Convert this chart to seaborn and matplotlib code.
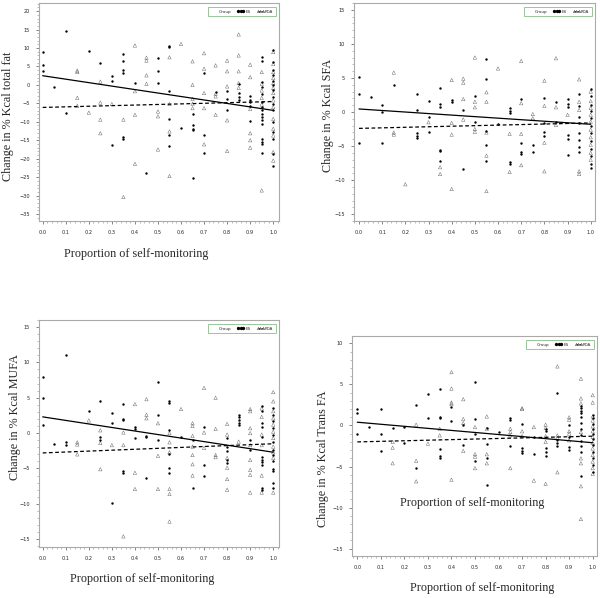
import matplotlib
matplotlib.use('Agg')
import matplotlib.pyplot as plt
from matplotlib.lines import Line2D
from matplotlib.ticker import MultipleLocator
import pandas as pd
import seaborn as sns

# Scatter values: x position -> list of y values
fat_es = {0.0: [8.9, 5.5, 3.8], 0.05: [-0.5], 0.1: [14.7, -7.6], 0.2: [9.2],
          0.25: [5.9], 0.3: [2.3, 1.2, -16.4], 0.35: [8.3, 6.6, 4.1, 3.2, -14.1, -14.6],
          0.4: [0.5], 0.45: [-23.8], 0.5: [7.4, 3.9, 0.5],
          0.55: [10.5, 10.2, -1.7, -9.2, -13.7, -16.5], 0.6: [-11.7],
          0.65: [-7.8, -11.0, -11.9, -12.3, -25.3], 0.7: [3.2, -13.7, -18.5],
          0.75: [-2.0], 0.8: [-1.7, -3.8, -6.9], 0.85: [0.3, -2.2, -3.3, -4.0],
          0.9: [-2.9, -4.2, -4.7, -5.8, -9.8],
          0.95: [7.7, 6.6, 0.8, -0.6, -2.4, -4.7, -6.0, -6.9, -7.8, -8.7, -9.6, -10.7, -14.6, -15.5, -16.0, -18.5],
          1.0: [9.5, 6.2, 4.1, 2.6, 1.2, -0.1, -1.5, -3.3, -5.1, -6.9, -10.1, -12.8, -14.6, -18.8, -22.1]}
fat_pda = {0.15: [3.9, 3.5, -3.5, -5.7], 0.2: [-7.5], 0.25: [0.9, -4.8, -9.4, -13.1],
           0.3: [-5.2], 0.35: [-9.4, -30.4], 0.4: [10.7, -1.7, -8.1, -21.4],
           0.45: [7.4, 6.6, 2.6, 0.3], 0.5: [-7.2, -8.5, -17.5],
           0.55: [7.5, -5.2, -12.6, -24.7], 0.6: [11.1],
           0.65: [6.4, 0.0, -3.8, -5.1, -6.3], 0.7: [8.6, 4.4, -2.2, -6.3, -16.1],
           0.75: [5.3, -2.4, -3.1, -8.1], 0.8: [6.6, 3.7, -0.4, -9.6, -17.9],
           0.85: [13.7, 8.0, 3.7, 0.5, -0.8], 0.9: [5.5, 2.1, -6.5, -13.1, -15.0, -17.0],
           0.95: [3.5, 0.3, -1.5, -3.5, -5.3, -28.6],
           1.0: [8.9, 5.7, 3.5, 1.9, 0.5, -0.8, -2.2, -4.2, -6.0, -9.2, -11.9, -13.7, -18.2, -20.5]}

sfa_es = {0.0: [5.1, 2.6, -4.5], 0.05: [2.2], 0.1: [1.1, 0.0, -4.6], 0.15: [4.0],
          0.25: [2.6, 0.3, -3.1, -3.5, -3.8], 0.3: [1.6, -0.7, -3.0],
          0.35: [3.5, 1.2, 0.8, -5.6, -5.7, -7.2], 0.4: [1.7, 1.4], 0.45: [0.3, -8.3],
          0.5: [2.4, -1.5], 0.55: [7.8, 4.8, -2.8, -4.9, -7.2], 0.6: [-1.7],
          0.65: [0.6, 0.2, -0.2, -7.4, -7.6], 0.7: [1.9, -4.6, -5.9, -6.1],
          0.75: [-4.8, -5.8], 0.8: [2.1, -1.6, -3.0, -3.5], 0.85: [1.5, -1.4],
          0.9: [1.9, 1.2, 0.7, -3.4, -4.0, -6.3],
          0.95: [2.6, 0.9, -0.7, -1.6, -3.1, -4.1, -5.1, -5.9],
          1.0: [3.4, 2.3, 1.1, 0.1, -0.9, -2.0, -3.1, -4.3, -5.5, -6.5, -7.6, -8.2]}
sfa_pda = {0.15: [5.8, -3.0, -3.3], 0.2: [-10.6], 0.3: [-1.5], 0.35: [-8.1, -9.1],
           0.4: [4.7, -1.6, -3.3, -11.3], 0.45: [4.9, 4.3, 1.9, -1.1],
           0.5: [8.0, 1.5, 0.7, -2.5, -2.9], 0.55: [2.9, 1.5, -3.0, -6.4, -11.6],
           0.6: [6.4], 0.65: [-3.2, -8.8], 0.7: [7.5, 1.3, -3.2, -7.8],
           0.75: [-0.3, -0.9], 0.8: [4.6, 0.9, -4.5, -8.7], 0.85: [7.9, 0.7, -1.9],
           0.9: [-0.4], 0.95: [4.8, 1.5, 0.3, -8.7, -9.1],
           1.0: [3.0, 1.6, 0.6, -0.4, -1.4, -2.6, -3.7, -4.8, -6.0, -7.0]}

mufa_es = {0.0: [7.9, 4.9, 1.1], 0.05: [-1.6], 0.1: [11.0, -1.3, -1.7], 0.2: [3.2],
           0.25: [4.6, -0.5, -0.9], 0.3: [2.8, 1.5, -9.9], 0.35: [4.1, 2.0, 1.8, -5.3, -5.7],
           0.4: [0.8, 0.6, -0.7], 0.45: [-0.4, -0.6, -6.4], 0.5: [7.3, 2.5, -0.9],
           0.55: [4.6, 4.3, 0.4, -2.9, -5.0, -5.7], 0.6: [-0.6], 0.65: [-0.9, -7.8],
           0.7: [0.9, -4.5, -6.0], 0.8: [-0.7, -1.9, -2.5, -3.8, -4.2],
           0.85: [2.6, 2.3, 1.9, 1.5, 1.2], 0.9: [-0.9, -2.4],
           0.95: [3.9, 3.1, 1.4, 0.9, -0.5, -3.4, -3.8, -4.1, -4.5, -7.8, -8.1],
           1.0: [3.5, 2.6, 1.7, 0.7, -0.2, -1.2, -2.4, -3.1, -4.0, -5.1, -5.4, -7.1, -7.8]}
mufa_pda = {0.15: [-1.3, -1.6, -3.0], 0.2: [1.8], 0.25: [0.4, -1.4, -5.1], 0.3: [-1.7],
            0.35: [0.1, -1.7, -14.6], 0.4: [4.1, -5.6, -7.9], 0.45: [4.8, 2.6, 2.1],
            0.5: [1.4, -3.2, -7.9], 0.55: [0.0, -1.3, -2.7, -7.9, -8.6, -12.5], 0.6: [3.4],
            0.65: [1.4, 1.0, -0.4, -1.9, -3.1, -4.4, -6.0], 0.7: [6.4, 0.1, -2.1],
            0.75: [5.0, 0.6, -3.1, -3.4], 0.8: [1.3, -0.2, -3.5, -4.9, -6.5, -8.0],
            0.85: [-1.2], 0.9: [3.4, 3.1, 0.7, 0.0, -1.7, -3.8, -5.2, -5.9, -8.4],
            0.95: [3.5, 2.3, -0.2, -1.7, -6.0, -8.4],
            1.0: [5.8, 4.5, 3.1, 2.1, 1.2, 0.2, -0.7, -1.9, -2.7, -3.5, -8.4]}

trans_es = {0.0: [2.0, 1.5, -1.0], 0.05: [-0.2], 0.1: [2.0, -1.0, -3.1], 0.15: [-0.3],
            0.2: [-0.2, -2.1], 0.25: [2.5, -5.2], 0.3: [3.8, 0.9],
            0.35: [4.4, 1.0, 0.9, -2.9, -3.7, -3.9], 0.4: [2.3, 0.5], 0.45: [0.1, -2.4],
            0.5: [5.3, 0.8, -1.0, -4.3], 0.55: [-0.3, -2.3, -3.9, -7.3], 0.6: [-0.8],
            0.65: [0.9, 0.7, -2.5], 0.7: [0.2, -2.7, -3.1, -3.4], 0.75: [-1.4, -3.5],
            0.8: [-0.4, -0.7, -2.7, -3.2, -3.7], 0.85: [4.0, -1.8, -2.1, -2.5],
            0.9: [0.0, -1.4, -2.6, -3.0],
            0.95: [2.4, 2.1, 1.8, 1.5, 1.0, 0.3, -0.4, -1.2, -1.9, -2.5, -3.2, -6.2],
            1.0: [1.3, 0.9, 0.2, -0.4, -1.0, -1.7, -2.4, -3.2, -4.0, -4.8, -5.7]}
trans_pda = {0.15: [-2.0, -2.7, -4.6], 0.25: [0.1, -4.3, -6.8], 0.3: [-2.2],
             0.35: [-0.4, -1.2], 0.4: [6.5, 4.5, 2.8, 2.6, -6.6], 0.45: [3.2, 0.8, 0.3, -3.1],
             0.5: [-0.2, -3.5, -3.8, -5.2], 0.55: [1.1, -0.4, -3.5, -4.6],
             0.65: [-0.4, -0.8, -1.2, -5.2], 0.7: [2.1, 2.0, -0.7, -1.3],
             0.75: [-0.2, -6.7], 0.8: [0.1, -0.3, -1.3, -2.0, -7.1],
             0.85: [7.2, -1.2, -1.5, -5.7], 0.9: [1.0, 0.7, -0.7, -1.0, -1.8],
             0.95: [5.7, 3.3, 2.7, -0.8, -4.0, -4.6, -7.4, -11.4],
             1.0: [3.7, 2.8, 1.1, 0.6, -0.1, -0.7, -1.4, -2.1, -2.8, -3.6, -4.4, -5.2, -5.9]}

# Fitted lines: values at x=0 and x=1
fit_x = [0.0, 1.0]
fat_es_fit, fat_pda_fit = [2.5, -6.9], [-6.1, -4.5]
sfa_es_fit, sfa_pda_fit = [0.45, -1.8], [-2.4, -1.6]
mufa_es_fit, mufa_pda_fit = [2.3, -2.7], [-2.8, -1.5]
trans_es_fit, trans_pda_fit = [0.4, -2.1], [-2.0, -1.3]

ylabels = ['Change in % Kcal total fat', 'Change in % Kcal SFA',
           'Change in % Kcal MUFA', 'Change in % Kcal Trans FA']
xlabel = 'Proportion of self-monitoring'
group_names = ['ES', 'PDA']


def to_frame(d):
    rows = [(x, y) for x, ys in d.items() for y in ys]
    return pd.DataFrame(rows, columns=['x', 'y'])


sns.set_theme(style='white')
plt.rcParams['font.family'] = ['DejaVu Sans']
serif = 'Liberation Serif'

fig = plt.figure(figsize=(6.0, 5.98), dpi=100)

panels = [
    # axes rect, xlim, ylim, y ticks, data
    ([0.065, 0.6304, 0.400, 0.3645], (-0.016, 1.025), (-36.9, 22.2), range(-35, 21, 5),
     fat_es, fat_pda, fat_es_fit, fat_pda_fit),
    ([0.590, 0.6304, 0.4017, 0.3645], (-0.0216, 1.0186), (-16.0, 16.0), range(-15, 16, 5),
     sfa_es, sfa_pda, sfa_es_fit, sfa_pda_fit),
    ([0.065, 0.0853, 0.400, 0.3796], (-0.016, 1.025), (-16.1, 16.0), range(-15, 16, 5),
     mufa_es, mufa_pda, mufa_es_fit, mufa_pda_fit),
    ([0.5867, 0.0702, 0.4083, 0.3679], (-0.0225, 1.0183), (-15.9, 10.9), range(-15, 11, 5),
     trans_es, trans_pda, trans_es_fit, trans_pda_fit),
]

for rect, xlim, ylim, yt, es, pda, es_fit, pda_fit in panels:
    ax = fig.add_axes(rect)
    es_df, pda_df = to_frame(es), to_frame(pda)
    sns.scatterplot(data=pda_df, x='x', y='y', marker='^', s=6, facecolor='none',
                    edgecolor='#555555', linewidth=0.3, ax=ax)
    sns.scatterplot(data=es_df, x='x', y='y', marker='o', s=3, color='black',
                    edgecolor='black', linewidth=0, ax=ax)
    sns.lineplot(x=fit_x, y=es_fit, color='black', linewidth=0.9, ax=ax)
    sns.lineplot(x=fit_x, y=pda_fit, color='black', linewidth=0.9, linestyle=(0, (3, 2)), ax=ax)

    ax.set_xlim(*xlim)
    ax.set_ylim(*ylim)
    ax.set_xticks([i / 10 for i in range(11)])
    ax.set_xticklabels([f'{i / 10:.1f}' for i in range(11)])
    ax.xaxis.set_minor_locator(MultipleLocator(0.02))
    ax.set_yticks(list(yt))
    ax.yaxis.set_minor_locator(MultipleLocator(1))
    ax.tick_params(axis='both', which='major', labelsize=3.6, length=2.5, width=0.5,
                   color='#555555', pad=4, bottom=True, left=True)
    ax.tick_params(axis='both', which='minor', length=1.2, width=0.4, color='#888888',
                   bottom=True, left=True)
    ax.set_xlabel('')
    ax.set_ylabel('')
    for sp in ax.spines.values():
        sp.set_color('#aaaaaa')
        sp.set_linewidth(0.8)

    handles = [
        Line2D([], [], linestyle='none'),
        Line2D([], [], color='black', marker='o', markersize=1.4, linewidth=0.7),
        Line2D([], [], color='#444444', marker='^', markersize=1.6, markerfacecolor='none',
               markeredgewidth=0.4, linewidth=0.7, linestyle=(0, (2, 1))),
    ]
    leg = ax.legend(handles, ['Group'] + group_names, loc='upper right', ncol=3,
                    fontsize=3.0, numpoints=3, handlelength=1.8, handletextpad=0.2,
                    columnspacing=1.4, borderpad=0.6, frameon=True, fancybox=False,
                    bbox_to_anchor=(0.995, 0.99))
    leg.get_frame().set_edgecolor('#7fb87f')
    leg.get_frame().set_linewidth(0.7)

# y labels
for (x, y), label in zip([(8, 116), (328, 115), (15.5, 417), (323, 459)], ylabels):
    fig.text(x / 600, 1 - y / 598, label, rotation=90, ha='center', va='center',
             fontsize=8.7, family=serif)

# x labels (the top right panel has none; bottom right has an extra one inside)
for x, y in [(136, 254), (141.7, 579), (481.7, 588), (471.7, 503)]:
    fig.text(x / 600, 1 - y / 598, xlabel, ha='center', va='center',
             fontsize=8.7, family=serif)

fig.savefig('out.png', dpi=100)
